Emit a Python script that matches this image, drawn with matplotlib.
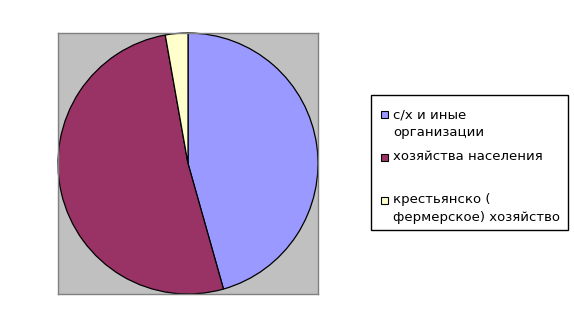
import matplotlib.pyplot as plt
from matplotlib.patches import Rectangle

labels = ['с/х и иные\nорганизации', 'хозяйства населения', 'крестьянско (\nфермерское) хозяйство']
values = [45.6, 51.6, 2.8]
colors = ['#9999FF', '#993366', '#FFFFCC']

W, H = 574, 327
fig = plt.figure(figsize=(W / 100, H / 100), dpi=100)
fig.patch.set_facecolor('white')

# pie plot area (gray square)
ax = fig.add_axes([58 / W, 1 - 294 / H, 260 / W, 261 / H])
ax.pie(values, colors=colors, startangle=90, counterclock=False, radius=1.0,
       wedgeprops=dict(edgecolor='black', linewidth=0.9))
ax.set_frame_on(True)
ax.set_facecolor('#C0C0C0')
for s in ax.spines.values():
    s.set_visible(True)
    s.set_edgecolor('#808080')
    s.set_linewidth(1)
ax.set_xlim(-1.0, 1.0)
ax.set_ylim(-1.0, 1.0)
ax.set_aspect('auto')
ax.set_xticks([])
ax.set_yticks([])

# legend drawn by hand in pixel coords
def px(x, y):
    return x / W, 1 - y / H

lx0, ly0, lx1, ly1 = 371, 95, 568, 230
fig.patches.append(Rectangle(px(lx0, ly1), (lx1 - lx0) / W, (ly1 - ly0) / H,
                             transform=fig.transFigure, facecolor='white',
                             edgecolor='black', linewidth=1))

first_line_y = [115, 157, 200]
for lab, col, y in zip(labels, colors, first_line_y):
    fig.patches.append(Rectangle(px(381, y + 3.5), 7 / W, 7 / H,
                                 transform=fig.transFigure, facecolor=col,
                                 edgecolor='black', linewidth=0.8))
    for i, line in enumerate(lab.split('\n')):
        fig.text(*px(393, y + i * 18), line, fontsize=9.5, va='center', ha='left',
                 color='black')

fig.savefig('out.png', dpi=100)
